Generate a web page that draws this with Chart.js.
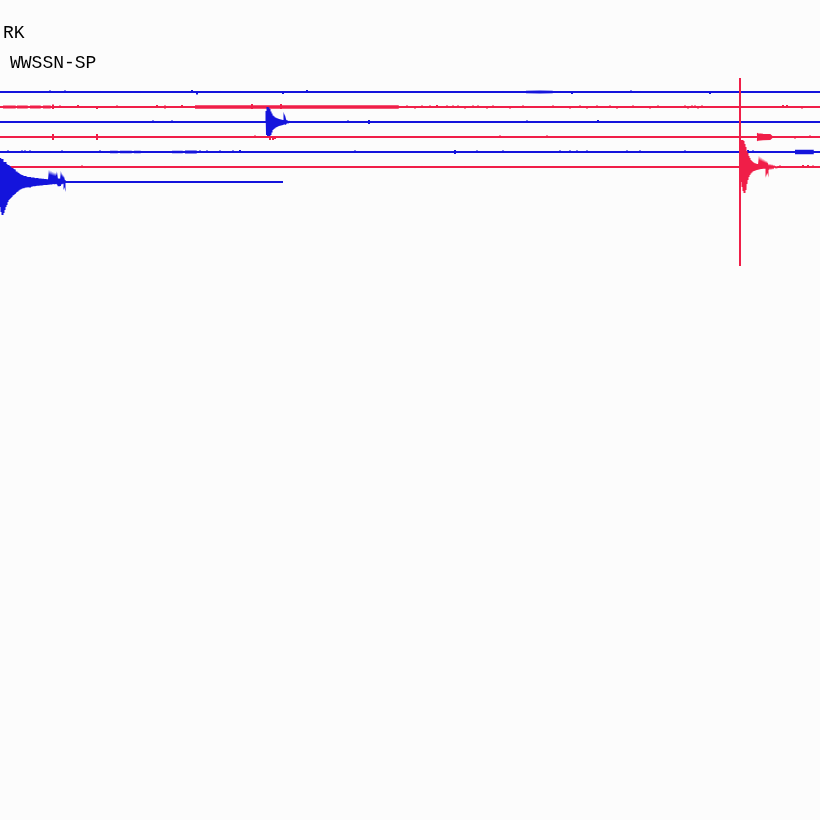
<!DOCTYPE html>
<html lang="en">
<head>
<meta charset="UTF-8">
<title>RK WWSSN-SP</title>
<style>
  html, body { margin: 0; padding: 0; background: #fcfcfc; }
  #wrap { width: 820px; height: 820px; }
</style>
</head>
<body>
<div id="wrap"><canvas id="heli" width="820" height="820"></canvas></div>
<script src="https://cdn.jsdelivr.net/npm/chart.js"></script>
<script>
// station header
const STATION = 'RK';
const NETWORK = 'WWSSN-SP';

// time (s) along each trace, amplitude in counts, one trace every 150 counts
const SPACING = 150;
const TRACE_END = [820, 820, 820, 820, 820, 820, 283];

// small glitches on each trace: [time, up, down]
const TICKS = [
  [[50,15,0],[65,15,0],[192,20,0],[197,0,25],[283,0,20],[307,20,0],[572,0,20],[631,15,0],[710,0,20]],
  [[53,25,20],[60,15,10],[78,20,0],[97,0,20],[117,15,0],[157,20,0],[165,15,15],[173,10,10],[182,20,0],
   [252,30,20],[281,30,20],[407,15,0],[415,0,15],[422,15,0],[430,15,10],[437,20,0],[447,15,10],[453,15,10],
   [458,15,0],[465,0,15],[473,15,0],[478,15,0],[487,0,15],[493,15,0],[500,10,0],[510,0,15],[523,15,0],
   [553,15,0],[570,0,15],[580,15,10],[587,0,15],[597,15,0],[603,10,10],[610,15,0],[617,0,15],[633,15,0],
   [640,10,0],[650,0,15],[658,15,0],[667,10,0],[685,15,0],[688,0,15],[692,15,0],[695,15,10],[698,0,15],
   [702,15,0],[713,10,0],[730,0,10],[783,20,0],[787,20,0],[802,0,15]],
  [[153,15,0],[172,15,0],[188,10,10],[348,15,10],[369,20,20],[513,10,0],[527,15,0],[552,10,0],[598,20,0],
   [620,10,0],[650,10,0],[805,10,0],[810,10,0],[815,10,0]],
  [[53,30,30],[97,30,30],[255,15,0],[270,0,30],[273,0,30],[275,0,20],[500,15,0],[547,15,0],[795,0,15],[810,15,0]],
  [[8,15,0],[22,15,10],[25,15,10],[30,15,10],[62,15,0],[78,10,0],[100,15,10],[152,10,0],[157,10,0],[200,15,0],
   [207,15,10],[213,10,0],[220,15,0],[227,10,0],[233,15,0],[240,20,0],[275,10,0],[298,10,0],[355,15,0],
   [455,20,20],[477,15,0],[485,10,0],[503,15,0],[547,10,0],[560,15,0],[570,15,10],[577,15,0],[582,10,0],
   [587,15,10],[627,15,0],[633,10,0],[640,15,0],[645,10,0],[685,15,0],[748,20,0],[753,15,0]],
  [[65,10,0],[82,15,0],[89,10,0],[170,10,0],[780,15,0],[803,20,10],[808,20,10],[813,15,0]],
  []
];

// noisy stretches: [trace, envelope [time, half width]]
const BURSTS = [
  [0, [[526,5],[540,7],[552,5]]],
  [1, [[3,7],[15,7]]],
  [1, [[17,7],[27,7]]],
  [1, [[30,7],[40,7]]],
  [1, [[43,7],[50,7]]],
  [1, [[195,9],[398,9]]],
  [3, [[757,35],[758,30],[763,25],[770,22],[772,5]]],
  [4, [[110,5],[117,5]]],
  [4, [[120,6],[131,6]]],
  [4, [[134,5],[140,5]]],
  [4, [[172,6],[182,6]]],
  [4, [[185,8],[196,8]]],
  [4, [[795,15],[813,15]]]
];

// recorded events: [time, amplitude]
const QUAKE_A = [[0,240],[0.5,-250],[1,220],[1.5,-300],[2,230],[2.5,-330],[3,200],[3.5,-310],[4,190],[4.5,-280],
  [5,200],[5.5,-250],[6,180],[6.5,-230],[7,170],[7.5,-200],[8,170],[8.5,-180],[9,160],[9.5,-170],[10,150],
  [10.5,-160],[11,140],[11.5,-150],[12,140],[12.5,-135],[13,130],[13.5,-130],[14,125],[14.5,-120],[15,115],
  [15.5,-110],[16,105],[16.5,-100],[17,95],[17.5,-95],[18,90],[18.5,-85],[19,80],[19.5,-78],[20,75],[20.5,-72],
  [21,70],[21.5,-66],[22,68],[22.5,-62],[23,60],[23.5,-63],[24,58],[24.5,-56],[25,60],[25.5,-54],[26,52],
  [26.5,-55],[27,50],[27.5,-52],[28,48],[28.5,-50],[29,47],[29.5,-45],[30,49],[30.5,-44],[31,45],[31.5,-46],
  [32,42],[32.5,-43],[33,44],[33.5,-40],[34,40],[34.5,-41],[35,38],[35.5,-40],[36,37],[36.5,-36],[37,39],
  [37.5,-35],[38,35],[38.5,-36],[39,33],[39.5,-34],[40,35],[40.5,-31],[41,32],[41.5,-33],[42,30],[42.5,-31],
  [43,31],[43.5,-29],[44,28],[44.5,-30],[45,29],[45.5,-27],[46,26],[46.5,-28],[47,27],[47.5,-25],[48,25],
  [48.5,-26],[49,24],[49.5,-23],[50,25],[50.5,-22],[51,22],[51.5,-23],[52,21],[52.5,-20],[53,22],[53.5,-19],
  [54,19],[54.5,-20],[55,18],[55.5,-18],[56,20],[56.5,-17],[57,28],[57.5,-26],[58,35],[58.5,-32],[59,33],
  [59.5,-30],[60,28],[60.5,-25],[61,22],[61.5,-20],[62,18],[62.5,-16],[63,15],[63.5,-13],[64,12],[64.5,-10],
  [65,8],[66,0]];
const QUAKE_B = [[266,0],[266.5,110],[267,-120],[267.5,150],[268,-140],[268.5,145],[269,-135],[269.5,130],
  [270,-120],[270.5,105],[271,-95],[271.5,85],[272,-70],[272.5,65],[273,-60],[273.5,56],[274,-52],[274.5,48],
  [275,-45],[275.5,42],[276,-40],[276.5,37],[277,-35],[277.5,33],[278,-31],[278.5,29],[279,-28],[279.5,26],
  [280,-25],[280.5,23],[281,-22],[281.5,21],[282,-19],[282.5,18],[283,-16],[283.5,15],[284,-14],[284.5,12],
  [285,-11],[285.5,10],[286,-9],[287,6],[288,-4],[289,2],[290,0]];
const QUAKE_C = [[740.5,0],[741,180],[741.5,-150],[742,270],[742.5,-200],[743,260],[743.5,-240],[744,230],
  [744.5,-260],[745,200],[745.5,-230],[746,160],[746.5,-170],[747,140],[747.5,-130],[748,110],[748.5,-100],
  [749,90],[749.5,-80],[750,70],[750.5,-65],[751,60],[751.5,-55],[752,50],[752.5,-45],[753,42],[753.5,-40],
  [754,38],[754.5,-36],[755,34],[755.5,-32],[756,30],[756.5,-29],[757,28],[757.5,-26],[758,25],[758.5,-24],
  [759,23],[759.5,-22],[760,21],[760.5,-20],[761,20],[761.5,-19],[762,18],[762.5,-17],[763,17],[763.5,-16],
  [764,15],[764.5,-15],[765,14],[765.5,-13],[766,13],[766.5,-12],[767,12],[767.5,-11],[768,11],[769,-10],
  [770,10],[771,-9],[772,8],[773,-7],[774,6],[776,-4],[778,0]];
const QUAKES = [QUAKE_A, QUAKE_B, QUAKE_C];
const QUAKE_ROWS = [6, 2, 5];

// time mark: [time, top, bottom]
const MARK = [740, -140, 1740];

const BLUE = '#1414dc';
const RED = '#f01e48';

function traceData(r) {
  const base = r * SPACING;
  const pieces = [];
  TICKS[r].forEach(([x, up, down]) => pieces.push([[x, 0], [x, up], [x, -down], [x, 0]]));
  QUAKE_ROWS.forEach((qr, i) => { if (qr === r) pieces.push(QUAKES[i]); });
  pieces.sort((a, b) => a[0][0] - b[0][0]);
  const pts = [{ x: 0, y: base }];
  pieces.forEach(p => p.forEach(([x, a]) => pts.push({ x: x, y: base - a })));
  pts.push({ x: TRACE_END[r], y: base });
  return pts;
}

function burstData(r, env) {
  const base = r * SPACING;
  const top = env.map(([x, a]) => ({ x: x, y: base - a }));
  const bottom = env.slice().reverse().map(([x, a]) => ({ x: x, y: base + a }));
  return top.concat(bottom);
}

const datasets = [];
for (let r = 0; r < TRACE_END.length; r++) {
  const c = r % 2 === 0 ? BLUE : RED;
  datasets.push({
    data: traceData(r),
    borderColor: c,
    borderWidth: 2,
    pointRadius: 0,
    fill: false,
    order: 10 - r
  });
}
BURSTS.forEach(([r, env]) => {
  const c = r % 2 === 0 ? BLUE : RED;
  datasets.push({
    data: burstData(r, env),
    borderColor: c,
    backgroundColor: c,
    borderWidth: 1.5,
    pointRadius: 0,
    fill: 'shape',
    order: 10 - r
  });
});
datasets.push({
  data: [{ x: MARK[0], y: MARK[1] }, { x: MARK[0], y: MARK[2] }],
  borderColor: RED,
  borderWidth: 2,
  pointRadius: 0,
  fill: false,
  order: 0
});

const headerPlugin = {
  id: 'header',
  beforeDraw(chart) {
    const ctx = chart.ctx;
    ctx.save();
    ctx.fillStyle = '#fcfcfc';
    ctx.fillRect(0, 0, chart.width, chart.height);
    ctx.restore();
  },
  afterDraw(chart) {
    const ctx = chart.ctx;
    ctx.save();
    ctx.fillStyle = '#000';
    ctx.font = '18px "Liberation Mono", monospace';
    ctx.fillText(STATION, 3, 38);
    ctx.fillText(NETWORK, 10, 68);
    ctx.restore();
  }
};

new Chart(document.getElementById('heli').getContext('2d'), {
  type: 'line',
  data: { datasets: datasets },
  options: {
    responsive: false,
    devicePixelRatio: 1,
    animation: false,
    parsing: false,
    layout: { padding: 0 },
    elements: { line: { tension: 0 } },
    plugins: { legend: { display: false }, tooltip: { enabled: false } },
    scales: {
      x: { type: 'linear', min: 0, max: 820, display: false },
      y: { type: 'linear', min: -920, max: 7280, reverse: true, display: false }
    }
  },
  plugins: [headerPlugin]
});
</script>
</body>
</html>
